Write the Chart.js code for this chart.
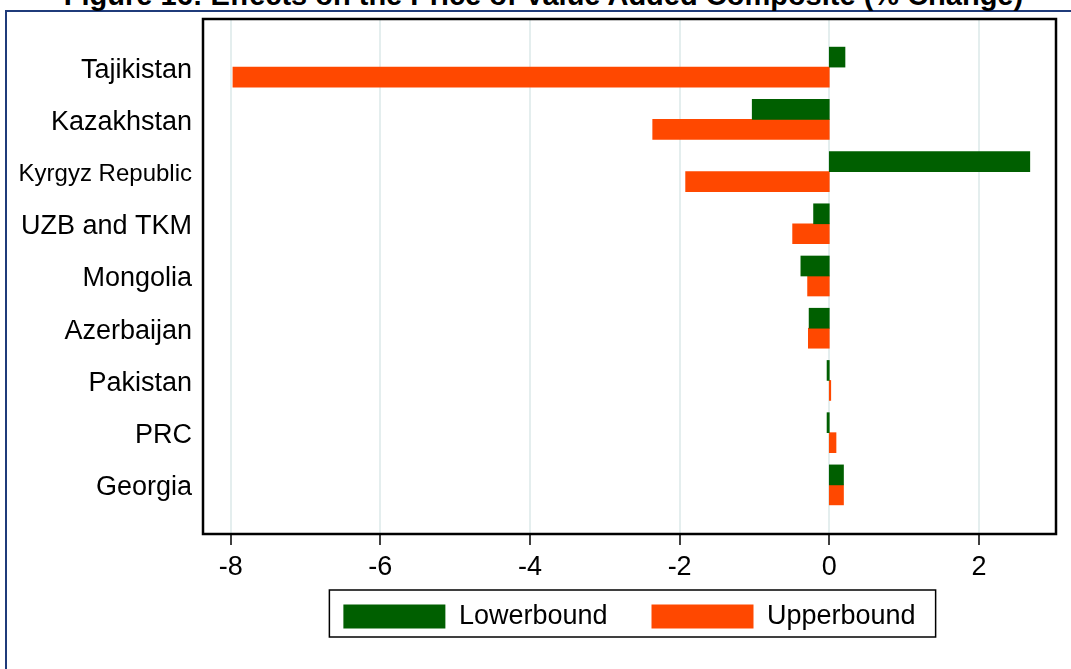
<!DOCTYPE html>
<html>
<head>
<meta charset="utf-8">
<script src="https://cdn.jsdelivr.net/npm/chart.js@4"></script>
<style>
  html, body { margin: 0; padding: 0; background: #fff; overflow: hidden; }
  #wrap { position: relative; width: 1071px; height: 669px; }
  #title {
    position: absolute; left: 0; top: -20px; width: 1087px; text-align: center;
    font: bold 29px "Liberation Sans", Arial, sans-serif; line-height: 30px; color: #000;
    white-space: nowrap;
  }
  #edge {
    position: absolute; left: 5px; top: 10px; right: 0; bottom: 0;
    border-top: 2px solid #1f3b7a; border-left: 2px solid #1f3b7a;
  }
  canvas { position: absolute; left: 0; top: 0; }
</style>
</head>
<body>
<div id="wrap">
  <div id="edge"></div>
  <div id="title">Figure 16: Effects on the Price of Value Added Composite (% Change)</div>
  <canvas id="chart" width="1071" height="669"></canvas>
</div>
<script>
// countries, top to bottom
var countries = ['Tajikistan', 'Kazakhstan', 'Kyrgyz Republic', 'UZB and TKM', 'Mongolia',
                 'Azerbaijan', 'Pakistan', 'PRC', 'Georgia'];
// % change
var lowerbound = [0.21, -1.03, 2.68, -0.21, -0.38, -0.27, -0.03, -0.03, 0.19];
var upperbound = [-7.97, -2.36, -1.92, -0.49, -0.29, -0.28, 0.02, 0.09, 0.19];
var xTicks = [-8, -6, -4, -2, 0, 2];

var FONT = '"Liberation Sans", Arial, sans-serif';

// frame, gridlines, tick marks and legend border (stata style)
var framePlugin = {
    id: 'frame',
    afterLayout: function (chart) {
        // pull the legend up, it sits close under the tick labels
        chart.legend.top -= 24;
        chart.legend.bottom -= 24;
    },
    beforeDatasetsDraw: function (chart) {
        var ctx = chart.ctx, a = chart.chartArea, x = chart.scales.x;
        var top = a.top - 22, bottom = a.bottom + 23;
        ctx.save();
        ctx.strokeStyle = '#e4eeee';
        ctx.lineWidth = 2;
        xTicks.forEach(function (v) {
            var px = Math.round(x.getPixelForValue(v));
            ctx.beginPath();
            ctx.moveTo(px, top);
            ctx.lineTo(px, bottom);
            ctx.stroke();
        });
        ctx.restore();
    },
    afterDraw: function (chart) {
        var ctx = chart.ctx, a = chart.chartArea, x = chart.scales.x;
        var top = a.top - 22, bottom = a.bottom + 23;
        ctx.save();
        ctx.strokeStyle = '#000';
        ctx.lineWidth = 1.5;
        xTicks.forEach(function (v) {
            var px = Math.round(x.getPixelForValue(v));
            ctx.beginPath();
            ctx.moveTo(px, bottom);
            ctx.lineTo(px, bottom + 11);
            ctx.stroke();
        });
        ctx.lineWidth = 2.5;
        ctx.strokeRect(a.left, top, a.right - a.left, bottom - top);

        var boxes = chart.legend.legendHitBoxes;
        if (boxes && boxes.length) {
            var last = boxes[boxes.length - 1];
            var l = boxes[0].left - 14, r = last.left + last.width + 20;
            var t = boxes[0].top - 13, b = boxes[0].top + 34;
            ctx.lineWidth = 1.5;
            ctx.strokeRect(l, t, r - l, b - t);
        }
        ctx.restore();
    }
};

new Chart(document.getElementById('chart').getContext('2d'), {
    type: 'bar',
    data: {
        labels: countries,
        datasets: [{
            label: 'Lowerbound',
            data: lowerbound,
            backgroundColor: '#005f00',
            barThickness: 20
        }, {
            label: 'Upperbound',
            data: upperbound,
            backgroundColor: '#ff4800',
            barThickness: 20
        }]
    },
    options: {
        indexAxis: 'y',
        responsive: false,
        animation: false,
        layout: { padding: { top: 41, left: 10, right: 15, bottom: 5 } },
        scales: {
            x: {
                min: -8.37,
                max: 3.03,
                afterBuildTicks: function (scale) {
                    scale.ticks = xTicks.map(function (v) { return { value: v }; });
                },
                afterFit: function (scale) { scale.height = 72; },
                grid: { display: false, drawTicks: false },
                border: { display: false },
                ticks: { color: '#000', padding: 40, font: { family: FONT, size: 27 } }
            },
            y: {
                offset: true,
                afterFit: function (scale) { scale.width = 193; },
                grid: { display: false, drawTicks: false },
                border: { display: false },
                ticks: {
                    color: '#000',
                    padding: 11,
                    labelOffset: 3,
                    font: function (c) {
                        var small = c.tick && c.tick.label === 'Kyrgyz Republic';
                        return { family: FONT, size: small ? 24 : 27 };
                    }
                }
            }
        },
        plugins: {
            legend: {
                position: 'bottom',
                fullSize: false,
                labels: {
                    color: '#000',
                    boxWidth: 102,
                    boxHeight: 24,
                    padding: 44,
                    font: { family: FONT, size: 27 }
                }
            },
            tooltip: { enabled: false }
        }
    },
    plugins: [framePlugin]
});
</script>
</body>
</html>
